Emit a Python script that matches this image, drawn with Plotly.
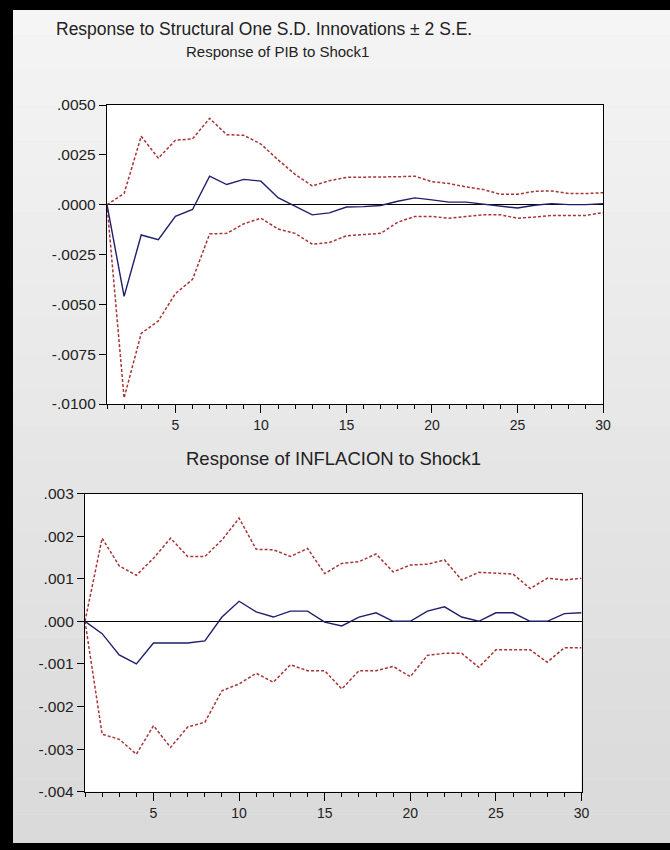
import plotly.graph_objects as go

periods = list(range(1, 31))

pib_resp = [0.0, -0.0046, -0.00152, -0.00176, -0.00058, -0.00024, 0.00143, 0.00101, 0.00127, 0.00118,
            0.00035, -0.0001, -0.00051, -0.00041, -0.00012, -0.0001, -0.00004, 0.00017, 0.00034, 0.00024,
            0.00013, 0.00013, 0.00003, -0.0001, -0.00017, -0.00003, 0.00005, 0.0, 0.0, 0.00005]
pib_upper = [0.0, 0.00056, 0.00343, 0.00233, 0.00323, 0.0033, 0.00433, 0.00351, 0.00348, 0.00304,
             0.00225, 0.00152, 0.00094, 0.0012, 0.00137, 0.00137, 0.0014, 0.0014, 0.00143, 0.00115,
             0.00106, 0.00089, 0.00076, 0.00052, 0.00052, 0.00067, 0.00069, 0.00056, 0.00056, 0.0006]
pib_lower = [0.0, -0.0097, -0.00646, -0.00583, -0.00446, -0.00375, -0.00147, -0.00144, -0.00096, -0.00068,
             -0.00122, -0.00144, -0.00198, -0.0019, -0.00156, -0.0015, -0.00144, -0.00088, -0.00059, -0.00059,
             -0.00068, -0.00059, -0.00051, -0.00051, -0.00068, -0.00062, -0.00054, -0.00054, -0.00054, -0.0004]

inf_resp = [0.0, -0.00029, -0.00079, -0.001, -0.00051, -0.00051, -0.00051, -0.00046, 0.0001, 0.00047,
            0.00022, 0.0001, 0.00024, 0.00024, -0.00002, -0.00011, 0.0001, 0.0002, 0.0, 0.0,
            0.00024, 0.00034, 0.0001, 0.0, 0.0002, 0.0002, 0.0, 0.0, 0.00018, 0.0002]
inf_upper = [0.0, 0.00195, 0.0013, 0.00108, 0.00148, 0.00195, 0.00152, 0.00152, 0.00191, 0.00242,
             0.00169, 0.00168, 0.00152, 0.00171, 0.00112, 0.00136, 0.0014, 0.00158, 0.00116, 0.00132,
             0.00134, 0.00144, 0.00097, 0.00115, 0.00113, 0.00111, 0.00077, 0.00101, 0.00097, 0.00101]
inf_lower = [0.0, -0.00265, -0.00277, -0.00312, -0.00245, -0.00296, -0.00248, -0.00237, -0.00163, -0.00147,
             -0.00122, -0.00143, -0.00102, -0.00116, -0.00116, -0.00159, -0.00116, -0.00116, -0.00106, -0.0013,
             -0.0008, -0.00075, -0.00075, -0.00108, -0.00067, -0.00067, -0.00067, -0.00096, -0.00062, -0.00062]

pib_ticks = [0.005, 0.0025, 0.0, -0.0025, -0.005, -0.0075, -0.01]
pib_ticklabels = [".0050", ".0025", ".0000", "-.0025", "-.0050", "-.0075", "-.0100"]
inf_ticks = [0.003, 0.002, 0.001, 0.0, -0.001, -0.002, -0.003, -0.004]
inf_ticklabels = [".003", ".002", ".001", ".000", "-.001", "-.002", "-.003", "-.004"]
x_ticks = [5, 10, 15, 20, 25, 30]

main_title = "Response to Structural One S.D. Innovations \u00b1 2 S.E."
title_pib = "Response of PIB to Shock1"
title_inf = "Response of INFLACION to Shock1"

W, H = 670, 850
FONT = "Liberation Sans, Arial, sans-serif"
BLUE = "#1f1f6b"
RED = "#a83436"

fig = go.Figure()

for ax, resp, up, lo in [("1", pib_resp, pib_upper, pib_lower), ("2", inf_resp, inf_upper, inf_lower)]:
    xa = "x" if ax == "1" else "x2"
    ya = "y" if ax == "1" else "y2"
    for band in (up, lo):
        fig.add_trace(go.Scatter(x=periods, y=band, mode="lines", xaxis=xa, yaxis=ya,
                                 line=dict(color=RED, width=1.5, dash="3px,2px"), showlegend=False))
    fig.add_trace(go.Scatter(x=periods, y=resp, mode="lines", xaxis=xa, yaxis=ya,
                             line=dict(color=BLUE, width=1.4), showlegend=False))

def px_x(p):
    return p / W

def px_y(p):
    return 1 - p / H

axis_common = dict(showline=True, linecolor="black", linewidth=1.3, mirror=True, showgrid=False,
                   ticks="outside", tickcolor="black", tickwidth=1.2, automargin=False)
xfont = dict(family=FONT, size=14, color="#222222")
yfont = dict(family=FONT, size=15.5, color="#222222")

P1 = dict(x0=107, x1=603, y0=105, y1=404)
P2 = dict(x0=85, x1=581.5, y0=493.5, y1=791.7)

fig.update_layout(
    width=W, height=H, margin=dict(l=0, r=0, t=0, b=0, pad=0, autoexpand=False),
    paper_bgcolor="#e8e8e8", plot_bgcolor="white",
    xaxis=dict(domain=[px_x(P1["x0"]), px_x(P1["x1"])], range=[1, 30], anchor="y",
               tickvals=x_ticks, ticklen=8, tickfont=xfont,
               minor=dict(dtick=1, tick0=1, ticklen=4, ticks="outside", tickcolor="black"),
               zeroline=False, **axis_common),
    yaxis=dict(domain=[px_y(P1["y1"]), px_y(P1["y0"])], range=[-0.01, 0.005], anchor="x",
               tickvals=pib_ticks, ticktext=pib_ticklabels, ticklen=7, tickfont=yfont,
               zeroline=True, zerolinecolor="black", zerolinewidth=1.3, **axis_common),
    xaxis2=dict(domain=[px_x(P2["x0"]), px_x(P2["x1"])], range=[1, 30], anchor="y2",
                tickvals=x_ticks, ticklen=8, tickfont=xfont,
                minor=dict(dtick=1, tick0=1, ticklen=4, ticks="outside", tickcolor="black"),
                zeroline=False, **axis_common),
    yaxis2=dict(domain=[px_y(P2["y1"]), px_y(P2["y0"])], range=[-0.004, 0.003], anchor="x2",
                tickvals=inf_ticks, ticktext=inf_ticklabels, ticklen=7, tickfont=yfont,
                zeroline=True, zerolinecolor="black", zerolinewidth=1.3, **axis_common),
)

# background gradient bands
shapes = []
n = 24
for i in range(n):
    t = i / (n - 1)
    c = int(245 - t * (245 - 218))
    shapes.append(dict(type="rect", xref="paper", yref="paper", layer="below",
                       x0=0, x1=1, y0=1 - (i + 1) / n, y1=1 - i / n,
                       line=dict(width=0), fillcolor=f"rgb({c},{c},{c})"))
for P in (P1, P2):
    shapes.append(dict(type="rect", xref="paper", yref="paper", layer="below",
                       x0=px_x(P["x0"]), x1=px_x(P["x1"]), y0=px_y(P["y1"]), y1=px_y(P["y0"]),
                       line=dict(width=0), fillcolor="white"))
# black frame (left, top, bottom)
shapes.append(dict(type="rect", xref="paper", yref="paper", x0=0, x1=px_x(13), y0=0, y1=1,
                   line=dict(width=0), fillcolor="black"))
shapes.append(dict(type="rect", xref="paper", yref="paper", x0=0, x1=1, y0=px_y(10), y1=1,
                   line=dict(width=0), fillcolor="black"))
shapes.append(dict(type="rect", xref="paper", yref="paper", x0=0, x1=1, y0=0, y1=px_y(843),
                   line=dict(width=0), fillcolor="black"))
fig.update_layout(shapes=shapes)

ann_font = dict(family=FONT, color="#222222")
fig.add_annotation(text=main_title, x=px_x(264), y=px_y(29), xref="paper", yref="paper",
                   showarrow=False, xanchor="center", yanchor="middle", font=dict(size=17.5, **ann_font))
fig.add_annotation(text=title_pib, x=px_x(277), y=px_y(51), xref="paper", yref="paper",
                   showarrow=False, xanchor="center", yanchor="middle", font=dict(size=15, **ann_font))
fig.add_annotation(text=title_inf, x=px_x(333), y=px_y(458), xref="paper", yref="paper",
                   showarrow=False, xanchor="center", yanchor="middle", font=dict(size=18.5, **ann_font))

ps = "document.body.style.margin='0';document.body.style.overflow='hidden';"
fig.write_html("out.html", config={"displayModeBar": False}, post_script=ps)
